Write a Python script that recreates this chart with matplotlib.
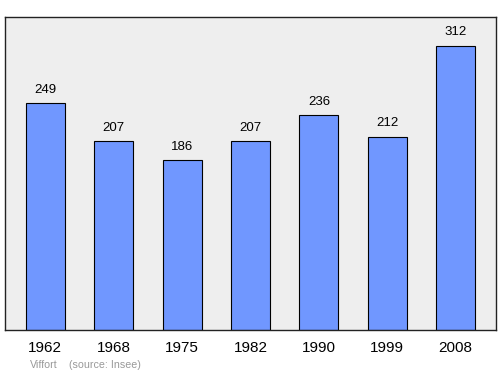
import matplotlib
matplotlib.use("Agg")
import matplotlib.pyplot as plt

plt.rcParams['font.family'] = ['Liberation Sans', 'DejaVu Sans']

# population by census year
years = ["1962", "1968", "1975", "1982", "1990", "1999", "2008"]
population = [249, 207, 186, 207, 236, 212, 312]

fig = plt.figure(figsize=(5, 3.74), dpi=100)
ax = fig.add_axes([0.01, 0.1176, 0.982, 0.8369])
ax.set_facecolor('#eeeeee')

x = list(range(len(years)))
ax.bar(x, population, width=0.57, color='#7097ff', edgecolor='black', linewidth=0.8, zorder=2)

for i, v in enumerate(population):
    ax.annotate(str(v), (i, v), textcoords="offset points", xytext=(0, 9.6),
                ha='center', va='center', fontsize=9.5)

ax.set_xlim(-0.59, 6.59)
ax.set_ylim(0, 343.3)
ax.set_xticks(x)
ax.set_xticklabels(years, fontsize=11)
ax.tick_params(axis='x', length=0, pad=7.6)
ax.set_yticks([])
for s in ax.spines.values():
    s.set_linewidth(1.0)
    s.set_color('#222222')

fig.text(0.06, 0.025, "Viffort", fontsize=7.7, color='#999999', va='center')
fig.text(0.138, 0.025, "(source: Insee)", fontsize=7.7, color='#999999', va='center')

fig.savefig("out.png", dpi=100)
